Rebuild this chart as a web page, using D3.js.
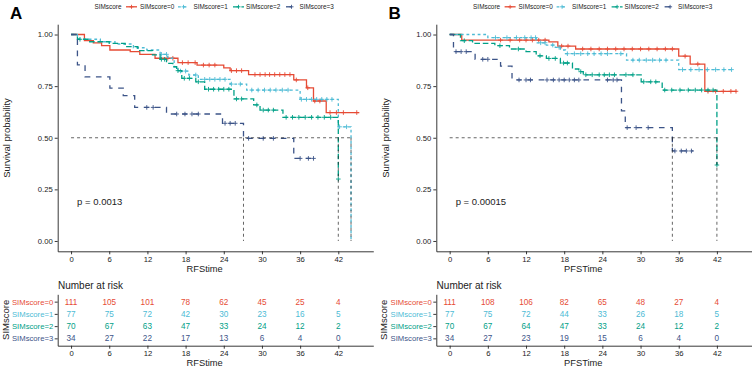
<!DOCTYPE html>
<html lang="en">
<head>
<meta charset="utf-8">
<title>SIMscore KM curves</title>
<script src="https://cdn.jsdelivr.net/npm/d3@7"></script>
<style>
  body { margin: 0; background: #fff; }
  svg { font-family: "Liberation Sans", Arial, sans-serif; }
</style>
</head>
<body>
<script>
// ---- data ----
const strata = ["SIMscore=0", "SIMscore=1", "SIMscore=2", "SIMscore=3"];
const timeTicks = [0, 6, 12, 18, 24, 30, 36, 42];
const probTicks = [0, 0.25, 0.5, 0.75, 1];

// panel A (RFStime): [time, survival] step points, last time, censor times
const rfsSteps0 = [[0,1],[2.1,.970],[3.5,.960],[4.8,.946],[6.1,.925],[9.3,.917],[10.8,.904],[13.2,.885],[16.8,.864],[19.8,.852],[24.0,.838],[25.0,.825],[27.9,.806],[35.0,.780],[37.0,.742],[38.1,.678],[40.1,.622]];
const rfsSteps1 = [[0,1],[1.0,.977],[4.6,.965],[6.9,.954],[9.8,.936],[11.9,.925],[14.0,.904],[15.2,.885],[16.2,.844],[16.8,.823],[18.5,.804],[20.0,.783],[25.0,.760],[27.6,.731],[36.0,.686],[42.0,.553],[44.0,0]];
const rfsSteps2 = [[0,1],[1.0,.977],[2.8,.965],[6.0,.957],[8.5,.941],[10.5,.922],[12.8,.901],[14.0,.880],[15.0,.860],[16.0,.844],[16.6,.825],[17.4,.788],[19.6,.771],[21.0,.735],[25.6,.688],[28.7,.659],[29.7,.634],[33.3,.599],[42.0,.300]];
const rfsSteps3 = [[0,1],[1.0,.853],[2.2,.795],[6.1,.740],[8.2,.704],[10.0,.647],[15.0,.615],[23.8,.570],[27.1,.497],[35.0,.400]];
const rfsEnd = [45.3, 44.0, 42.0, 38.3];
const rfsCens0 = [15.2,16.0,17.5,18.4,19.5,20.8,21.7,22.6,25.2,26.0,26.8,28.9,29.7,30.5,31.2,32.0,32.8,33.6,34.4,35.4,37.2,38.3,39.1,40.7,41.7,42.8,44.9];
const rfsCens1 = [14.2,15.0,17.2,18.0,19.6,21.0,21.8,22.6,23.4,24.2,25.2,26.6,28.4,29.4,30.4,31.3,32.2,33.2,34.1,36.2,37.0,37.8,38.6,39.4,40.2,41.0,42.2,43.3];
const rfsCens2 = [1.4,14.2,14.7,16.8,17.8,18.6,20.0,21.6,22.4,23.2,24.0,24.8,26.0,26.8,29.2,30.2,31.0,31.8,33.8,34.8,35.8,36.8,37.8,38.8,39.8,40.8,42.0];
const rfsCens3 = [11.9,12.9,16.6,17.9,19.0,20.0,24.2,25.0,25.8,27.9,30.2,31.8,36.0,37.3,38.1];
const rfsRisk0 = [111,105,101,78,62,45,25,4];
const rfsRisk1 = [77,75,72,42,30,23,16,5];
const rfsRisk2 = [70,67,63,47,33,24,12,2];
const rfsRisk3 = [34,27,22,17,13,6,4,0];

// panel B (PFSTime)
const pfsSteps0 = [[0,1],[1.9,.973],[15.6,.964],[17.0,.944],[19.8,.930],[36.0,.895],[37.8,.857],[40.1,.725]];
const pfsSteps1 = [[0,1],[6.0,.985],[13.6,.960],[15.2,.949],[16.6,.938],[17.4,.925],[18.2,.907],[27.8,.876],[36.0,.830]];
const pfsSteps2 = [[0,1],[1.7,.970],[3.6,.957],[7.1,.946],[9.4,.930],[12.0,.917],[13.6,.897],[15.2,.884],[17.4,.862],[19.3,.833],[20.3,.820],[21.0,.805],[30.1,.771],[33.4,.731],[42.0,.368]];
const pfsSteps3 = [[0,1],[0.6,.917],[4.0,.880],[8.0,.847],[9.8,.780],[27.0,.630],[27.6,.549],[35.0,.436]];
const pfsEnd = [45.1, 44.5, 42.0, 38.3];
const pfsCens0 = [8.0,9.5,11.0,12.0,13.0,14.0,15.0,17.6,18.6,20.9,22.2,23.5,24.8,26.1,27.4,28.7,30.0,31.3,32.6,33.9,35.0,37.0,39.0,40.6,41.8,43.0,44.2,45.0];
const pfsCens1 = [7.2,9.0,10.5,11.8,12.8,13.5,14.3,15.0,16.2,17.2,18.5,19.6,20.6,21.7,22.7,23.8,24.8,26.9,28.8,29.8,30.9,31.9,33.0,34.0,36.6,37.9,39.2,40.5,41.8,43.1,44.3];
const pfsCens2 = [2.3,7.9,10.8,14.2,15.6,16.6,17.9,18.5,20.6,21.4,22.4,23.5,24.3,25.1,25.9,27.7,28.8,30.5,31.6,32.4,33.8,34.9,36.2,37.5,38.6,39.6,40.6,41.4,42.0];
const pfsCens3 = [1.0,1.8,2.6,5.2,6.0,10.9,12.0,12.7,15.3,16.3,17.2,18.0,18.8,19.6,20.3,24.8,25.7,26.3,27.9,29.3,31.2,35.4,36.4,37.2,38.0];
const pfsRisk0 = [111,108,106,82,65,48,27,4];
const pfsRisk1 = [77,75,72,44,33,26,18,5];
const pfsRisk2 = [70,67,64,47,33,24,12,2];
const pfsRisk3 = [34,27,23,19,15,6,4,0];

// ---- styling ----
const colors = ["#E64B35", "#4DBBD5", "#00A087", "#3C5488"];
const dashes = [null, "2.8,2.8", "5.6,2.8", "5.6,5.6"];
const ink = "#222";
// legend slots (key start, text start) measured on the figure
const legendKeyX = [126, 178, 233, 286];
const legendTextX = [140, 193.5, 246, 299.5];

const svg = d3.select("body").append("svg")
  .attr("width", 752)
  .attr("height", 367);

function survAt(steps, t) {
  let v = 1;
  steps.forEach(s => { if (s[0] <= t) v = s[1]; });
  return v;
}

function styleAxis(a, size) {
  a.selectAll(".domain").attr("stroke", ink).attr("stroke-width", 0.9);
  a.selectAll(".tick line").attr("stroke", ink).attr("stroke-width", 0.9);
  a.selectAll(".tick text").attr("fill", ink).style("font-size", size + "px");
}

function drawPanel(dx, letter, steps, ends, cens, risk, xTitle, pText) {
  const g = svg.append("g").attr("transform", `translate(${dx},0)`);

  const x = d3.scaleLinear().domain([-2.1, 47.5]).range([57.7, 373.3]);
  const y = d3.scaleLinear().domain([-0.05, 1.05]).range([251.3, 24.2]);

  // panel letter
  g.append("text").attr("x", 10).attr("y", 18.5)
    .style("font-size", "17px").style("font-weight", "bold").text(letter);

  // legend
  g.append("text").attr("x", 94.5).attr("y", 9)
    .attr("fill", ink).style("font-size", "6.4px").text("SIMscore");
  strata.forEach((s, i) => {
    const kx = legendKeyX[i];
    g.append("line").attr("x1", kx).attr("x2", kx + 11).attr("y1", 6.8).attr("y2", 6.8)
      .attr("stroke", colors[i]).attr("stroke-width", 1.3)
      .attr("stroke-dasharray", dashes[i]);
    g.append("path").attr("d", `M${kx + 3.5},6.8h4M${kx + 5.5},4.8v4`)
      .attr("stroke", colors[i]).attr("stroke-width", 0.9);
    g.append("text").attr("x", legendTextX[i]).attr("y", 9)
      .attr("fill", ink).style("font-size", "6.4px").text(s);
  });

  // axes
  const ya = g.append("g").attr("transform", `translate(${x.range()[0]},0)`)
    .call(d3.axisLeft(y).tickValues(probTicks).tickFormat(d3.format(".2f"))
      .tickSize(3).tickPadding(2).tickSizeOuter(0));
  styleAxis(ya, 7.7);
  const xa = g.append("g").attr("transform", `translate(0,${y.range()[0]})`)
    .call(d3.axisBottom(x).tickValues(timeTicks).tickSize(3).tickPadding(2).tickSizeOuter(0));
  styleAxis(xa, 7.7);

  g.append("text").attr("transform", "translate(10,138) rotate(-90)")
    .attr("text-anchor", "middle").attr("fill", ink).style("font-size", "9.5px")
    .text("Survival probability");
  g.append("text").attr("x", x(21)).attr("y", 272)
    .attr("text-anchor", "middle").attr("fill", ink).style("font-size", "9.3px")
    .text(xTitle);

  // curves
  const line = d3.line().x(d => x(d[0])).y(d => y(d[1])).curve(d3.curveStepAfter);
  steps.forEach((st, i) => {
    const pts = st.concat([[ends[i], st[st.length - 1][1]]]);
    g.append("path").datum(pts)
      .attr("fill", "none").attr("stroke", colors[i]).attr("stroke-width", 1.3)
      .attr("stroke-dasharray", dashes[i]).attr("d", line);
    g.append("g").selectAll("path").data(cens[i]).join("path")
      .attr("transform", t => `translate(${x(t)},${y(survAt(st, t))})`)
      .attr("d", "M-2.3,0H2.3M0,-2.3V2.3")
      .attr("stroke", colors[i]).attr("stroke-width", 0.9);
  });

  // median lines
  const medians = steps.map(st => {
    const hit = st.find(s => s[1] <= 0.5);
    return hit ? hit[0] : null;
  }).filter(m => m !== null);
  if (medians.length) {
    g.append("line").attr("x1", x(0)).attr("x2", x(d3.max(medians)))
      .attr("y1", y(0.5)).attr("y2", y(0.5))
      .attr("stroke", ink).attr("stroke-width", 0.7).attr("stroke-dasharray", "3,3");
    medians.forEach(m => {
      g.append("line").attr("x1", x(m)).attr("x2", x(m))
        .attr("y1", y(0.5)).attr("y2", y(0))
        .attr("stroke", ink).attr("stroke-width", 0.7).attr("stroke-dasharray", "3,3");
    });
  }

  g.append("text").attr("x", x(0.95)).attr("y", 204.5)
    .attr("fill", ink).style("font-size", "9.5px").text(pText);

  // risk table
  g.append("text").attr("x", 58).attr("y", 289)
    .attr("fill", ink).style("font-size", "10px").text("Number at risk");
  const ry = d3.scalePoint().domain(strata).range([294.3, 345.7]).padding(0.6);
  const rya = g.append("g").attr("transform", `translate(${x.range()[0]},0)`)
    .call(d3.axisLeft(ry).tickSize(3).tickPadding(1.5).tickSizeOuter(0));
  styleAxis(rya, 7.7);
  rya.selectAll(".tick text").attr("fill", (d, i) => colors[i]);
  const rxa = g.append("g").attr("transform", "translate(0,345.7)")
    .call(d3.axisBottom(x).tickValues(timeTicks).tickSize(3).tickPadding(2).tickSizeOuter(0));
  styleAxis(rxa, 7.7);
  g.append("text").attr("x", x(21)).attr("y", 366)
    .attr("text-anchor", "middle").attr("fill", ink).style("font-size", "9.3px")
    .text(xTitle);
  g.append("text").attr("transform", `translate(8.8,${ry("SIMscore=1") + 6}) rotate(-90)`)
    .attr("text-anchor", "middle").attr("fill", ink).style("font-size", "9.5px")
    .text("SIMscore");

  risk.forEach((row, i) => {
    g.append("g").selectAll("text").data(row).join("text")
      .attr("x", (d, j) => x(timeTicks[j]))
      .attr("y", ry(strata[i]))
      .attr("dy", "0.35em")
      .attr("text-anchor", "middle")
      .attr("fill", colors[i])
      .style("font-size", "8.2px")
      .text(d => d);
  });
}

drawPanel(0, "A",
  [rfsSteps0, rfsSteps1, rfsSteps2, rfsSteps3], rfsEnd,
  [rfsCens0, rfsCens1, rfsCens2, rfsCens3],
  [rfsRisk0, rfsRisk1, rfsRisk2, rfsRisk3], "RFStime", "p = 0.0013");

drawPanel(378.6, "B",
  [pfsSteps0, pfsSteps1, pfsSteps2, pfsSteps3], pfsEnd,
  [pfsCens0, pfsCens1, pfsCens2, pfsCens3],
  [pfsRisk0, pfsRisk1, pfsRisk2, pfsRisk3], "PFSTime", "p = 0.00015");
</script>
</body>
</html>
